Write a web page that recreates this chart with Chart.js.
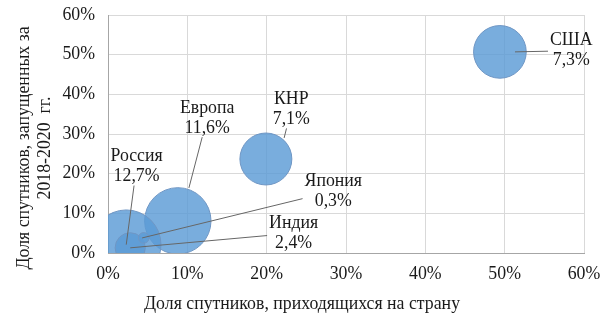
<!DOCTYPE html>
<html>
<head>
<meta charset="utf-8">
<script src="https://cdn.jsdelivr.net/npm/chart.js@4.4.1/dist/chart.umd.min.js"></script>
<style>
  html, body { margin: 0; padding: 0; background: #ffffff; }
  #wrap { width: 616px; height: 325px; }
</style>
</head>
<body>
<div id="wrap"><canvas id="c" width="616" height="325"></canvas></div>
<script>
// ---- data (percent) ----
const countries   = ['США', 'КНР', 'Европа', 'Россия', 'Индия', 'Япония'];
const satShare    = [49.4, 19.9, 8.8, 2.3, 2.8, 4.5];   // x: доля спутников, приходящихся на страну
const launchShare = [50.7, 23.7, 8.1, 2.1, 1.3, 3.8];   // y: доля спутников, запущенных за 2018-2020 гг.
const bubbleSize  = [7.3, 7.1, 11.6, 12.7, 2.4, 0.3];   // размер пузырька
const xTicks = [0, 10, 20, 30, 40, 50, 60];
const yTicks = [0, 10, 20, 30, 40, 50, 60];
const xTitle = 'Доля спутников, приходящихся на страну';
const yTitle = ['Доля спутников, запущенных за', '2018-2020  гг.'];

// label anchors and leader-line targets (data units)
const labelX  = [58.4, 23.1, 12.5, 3.6, 23.4, 28.4];
const labelY  = [51.0, 36.2, 34.0, 21.8, 5.0, 15.6];
const leaderX = [51.3, 22.2, 10.2, 2.3, 2.8, 4.3];
const leaderY = [50.7, 29.0, 16.4, 2.1, 1.3, 3.8];

const FONT = '"Liberation Serif", "Times New Roman", serif';
const TXT = '#1a1a1a';
const FS = 17.8;
const fmt = v => v.toFixed(1).replace('.', ',') + '%';

const points = satShare.map((x, i) => ({ x: x, y: launchShare[i] }));

const labelPlugin = {
  id: 'bubbleLabels',
  afterDatasetsDraw(chart) {
    const { ctx, scales: { x, y } } = chart;
    const lineH = 20;
    ctx.save();
    ctx.font = FS + 'px ' + FONT;
    ctx.textAlign = 'center';
    ctx.textBaseline = 'middle';
    countries.forEach((name, i) => {
      const cx = x.getPixelForValue(labelX[i]);
      const cy = y.getPixelForValue(labelY[i]);
      const lines = [name, fmt(bubbleSize[i])];
      const w = Math.max(...lines.map(l => ctx.measureText(l).width)) + 4;
      const h = lineH * 2 - 2;
      const tx = x.getPixelForValue(leaderX[i]);
      const ty = y.getPixelForValue(leaderY[i]);
      const dx = tx - cx, dy = ty - cy;
      const sx = dx !== 0 ? (w / 2) / Math.abs(dx) : Infinity;
      const sy = dy !== 0 ? (h / 2) / Math.abs(dy) : Infinity;
      const s = Math.min(sx, sy);
      ctx.beginPath();
      ctx.moveTo(cx + dx * s, cy + dy * s);
      ctx.lineTo(tx, ty);
      ctx.strokeStyle = '#666666';
      ctx.lineWidth = 1;
      ctx.stroke();
      ctx.fillStyle = TXT;
      ctx.fillText(lines[0], cx, cy - lineH / 2);
      ctx.fillText(lines[1], cx, cy + lineH / 2);
    });
    ctx.restore();
  }
};

const axisTitlePlugin = {
  id: 'axisTitles',
  afterDraw(chart) {
    const { ctx } = chart;
    ctx.save();
    ctx.font = FS + 'px ' + FONT;
    ctx.fillStyle = TXT;
    ctx.textAlign = 'center';
    ctx.textBaseline = 'middle';
    ctx.fillText(xTitle, 302, 304);
    ctx.translate(0, 148);
    ctx.rotate(-Math.PI / 2);
    ctx.fillText(yTitle[0], 0, 24);
    ctx.fillText(yTitle[1], 0, 45);
    ctx.restore();
  }
};

const zeroPad = s => { s.paddingTop = 0; s.paddingBottom = 0; s.paddingLeft = 0; s.paddingRight = 0; };

new Chart(document.getElementById('c'), {
  type: 'bubble',
  data: {
    datasets: [{
      data: points,
      clip: 0,
      backgroundColor: 'rgba(91,155,213,0.82)',
      borderColor: '#6f96c4',
      borderWidth: 1,
      radius: ctx => 9.75 * Math.sqrt(bubbleSize[ctx.dataIndex]),
      hoverRadius: 0
    }]
  },
  options: {
    responsive: false,
    animation: false,
    devicePixelRatio: 1,
    events: [],
    layout: { autoPadding: false, padding: { top: 15, right: 32, left: 0, bottom: 0 } },
    plugins: { legend: { display: false }, tooltip: { enabled: false } },
    scales: {
      x: {
        type: 'linear',
        min: 0, max: 60,
        afterBuildTicks: s => { s.ticks = xTicks.map(v => ({ value: v })); },
        afterFit: s => { s.height = 72; zeroPad(s); },
        ticks: {
          padding: 11,
          color: TXT,
          font: { family: FONT, size: FS },
          callback: v => v + '%'
        },
        grid: { color: '#d9d9d9', lineWidth: 1, drawTicks: false, tickLength: 0 },
        border: { color: '#a6a6a6', width: 1 }
      },
      y: {
        type: 'linear',
        min: 0, max: 60,
        afterBuildTicks: s => { s.ticks = yTicks.map(v => ({ value: v })); },
        afterFit: s => { s.width = 108; zeroPad(s); },
        ticks: {
          padding: 13,
          color: TXT,
          font: { family: FONT, size: FS },
          callback: v => v + '%'
        },
        grid: { color: '#d9d9d9', lineWidth: 1, drawTicks: false, tickLength: 0 },
        border: { color: '#a6a6a6', width: 1 }
      }
    }
  },
  plugins: [labelPlugin, axisTitlePlugin]
});
</script>
</body>
</html>
